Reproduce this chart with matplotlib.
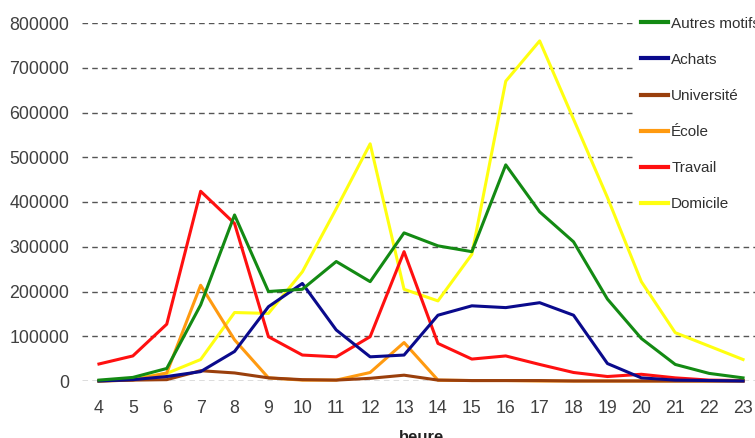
import matplotlib
matplotlib.use("Agg")
import matplotlib.pyplot as plt

plt.rcParams['font.family'] = ['Liberation Sans', 'DejaVu Sans']

heures = list(range(4, 24))

autres_motifs = [2000, 8000, 28000, 170000, 371000, 200000, 205000, 267000, 222000, 331000,
                 302000, 289000, 483000, 378000, 311000, 183000, 95000, 37000, 17000, 7000]
achats = [0, 3000, 10000, 21000, 66000, 166000, 218000, 114000, 54000, 58000,
          147000, 168000, 164000, 175000, 147000, 39000, 7000, 2000, 1000, 0]
universite = [0, 2000, 3000, 23000, 18000, 7000, 3000, 2000, 6000, 13000,
              2000, 1000, 1000, 1000, 0, 0, 0, 0, 0, 0]
ecole = [0, 2000, 18000, 214000, 92000, 7000, 2000, 2000, 19000, 86000,
         2000, 1000, 1000, 0, 0, 0, 0, 0, 0, 0]
travail = [38000, 56000, 127000, 424000, 352000, 99000, 58000, 54000, 99000, 289000,
           84000, 49000, 56000, 37000, 19000, 10000, 15000, 7000, 2000, 1000]
domicile = [0, 5000, 17000, 48000, 153000, 151000, 244000, 385000, 530000, 205000,
            179000, 283000, 670000, 760000, 585000, 410000, 222000, 108000, 78000, 48000]

series = [
    ("Autres motifs", autres_motifs, "#138a13"),
    ("Achats", achats, "#0a0a8c"),
    ("Université", universite, "#9a3f0c"),
    ("École", ecole, "#ff9a10"),
    ("Travail", travail, "#ff1010"),
    ("Domicile", domicile, "#ffff10"),
]

y_ticks = [0, 100000, 200000, 300000, 400000, 500000, 600000, 700000, 800000]

fig = plt.figure(figsize=(7.55, 4.38), dpi=100)
ax = fig.add_axes([82 / 755, 1 - 381 / 438, 678 / 755, 358 / 438])

# draw in reverse so the first legend entry sits on top
for name, vals, col in reversed(series):
    ax.plot(heures, vals, color=col, lw=2.2, label=name, clip_on=False, zorder=3)

ax.set_xlim(3.5, 23.5)
ax.set_ylim(0, 800000)
ax.set_xticks(heures)
ax.set_yticks(y_ticks)
ax.set_yticklabels([str(v) for v in y_ticks])
ax.yaxis.grid(True, linestyle=(0, (4, 3)), color="#555555", lw=1.0)
ax.set_axisbelow(True)
for s in ax.spines.values():
    s.set_visible(False)
ax.tick_params(axis="both", length=0, labelsize=12.8, labelcolor="#404040")
ax.tick_params(axis="y", pad=9)
ax.tick_params(axis="x", pad=14)
ax.set_xlabel("heure", fontsize=12, fontweight="bold", color="#202020", labelpad=9)

handles, labels = ax.get_legend_handles_labels()
handles, labels = handles[::-1], labels[::-1]
leg = fig.legend(handles, labels, loc="upper left", bbox_to_anchor=(636 / 755, 1 - 12 / 438),
                 frameon=True, fontsize=11, handlelength=1.8, handletextpad=0.2,
                 labelspacing=1.45, borderaxespad=0, borderpad=0.3)
leg.get_frame().set_facecolor("white")
leg.get_frame().set_edgecolor("white")
leg.get_frame().set_alpha(1)
leg.set_zorder(10)
for t in leg.get_texts():
    t.set_color("#303030")
for h in leg.get_lines():
    h.set_linewidth(3)

fig.savefig("out.png", dpi=100)
